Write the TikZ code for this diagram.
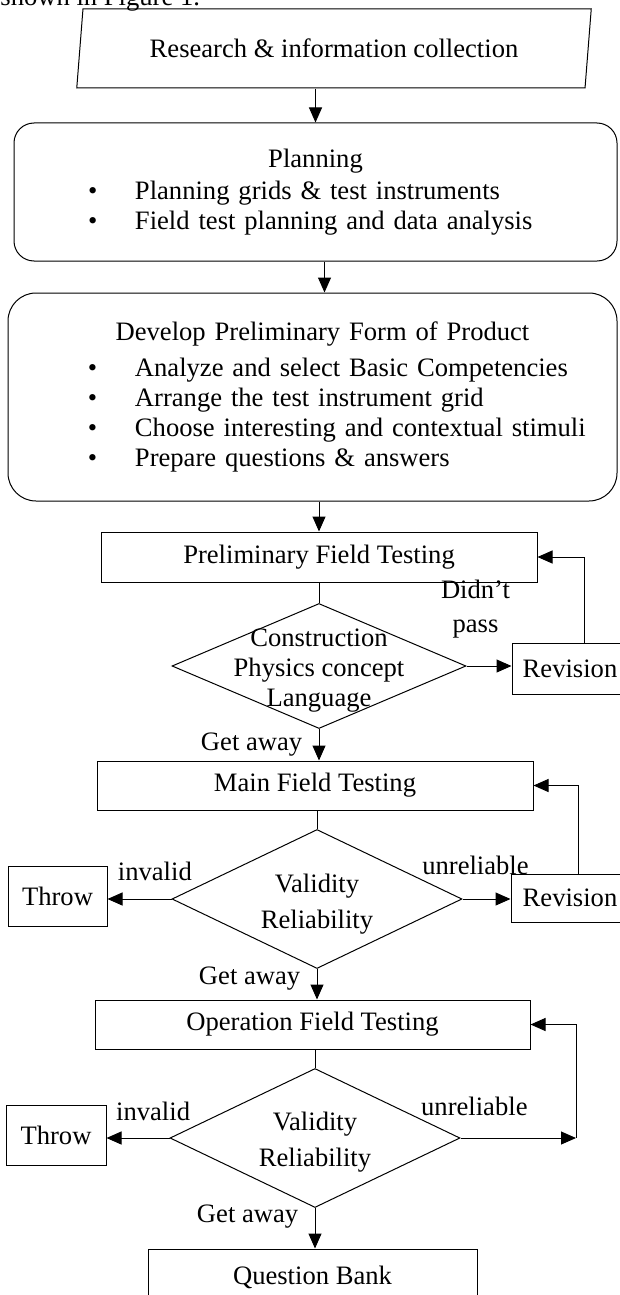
\documentclass[tikz,border=0pt]{standalone}
\usepackage{fontspec}
\setmainfont{Liberation Serif}
\usetikzlibrary{arrows.meta, positioning, shapes.geometric}

\newcommand{\bul}{\makebox[47pt][l]{\textbullet}}

\begin{document}
\begin{tikzpicture}[
  x=1pt, y=-1pt, line width=1pt,
  font=\fontsize{26.6}{30}\selectfont,
  inputbox/.style={trapezium, trapezium left angle=76.5, trapezium right angle=103.5, trapezium stretches=true, draw, inner sep=0pt},
  roundbox/.style={rectangle, draw, rounded corners=#1, inner sep=0pt, align=left},
  box/.style={rectangle, draw, minimum height=49pt, inner sep=0pt},
  decision/.style={diamond, draw, inner sep=0pt},
  lbl/.style={inner sep=0pt, align=center},
  flow/.style={->},
  >={Triangle[length=15pt, width=13pt]}
]
\useasboundingbox (0,0) rectangle (620,1295);

\node[anchor=base west, inner sep=0pt] (lead) at (0,6) {shown in Figure 1.};

\node[inputbox, minimum width=516pt, minimum height=79pt] (research) at (334,48.5) {Research \& information collection};
\node[roundbox=20pt, text width=603pt, minimum height=138pt] (plan) at (315.5,192) {\makebox[\linewidth]{Planning}\\[2pt]
  \hspace*{74pt}\bul Planning grids \& test instruments\\
  \hspace*{74pt}\bul Field test planning and data analysis};
\node[roundbox=28pt, text width=609pt, minimum height=208pt] (dev) at (312.5,397) {\makebox[\linewidth]{\hspace{20pt}Develop Preliminary Form of Product}\\[6pt]
  \hspace*{80pt}\bul Analyze and select Basic Competencies\\
  \hspace*{80pt}\bul Arrange the test instrument grid\\
  \hspace*{80pt}\bul Choose interesting and contextual stimuli\\
  \hspace*{80pt}\bul Prepare questions \& answers};

\node[box, minimum width=436pt, minimum height=50pt] (pft) at (319,557) {Preliminary Field Testing};
\node[decision, minimum width=294pt, minimum height=125pt, label={[lbl, yshift=-5pt]center:Construction\\Physics concept\\Language}] (chk1) at (319,666) {};
\node[box, minimum width=116pt, minimum height=51pt] (rev1) at (570,668.5) {Revision};

\node[box, minimum width=436pt] (mft) at (315,785.5) {Main Field Testing};
\node[decision, minimum width=290pt, minimum height=139pt, label={[lbl, yshift=-5pt]center:Validity\\[6pt]Reliability}] (chk2) at (317,899) {};
\node[box, minimum width=99pt, minimum height=60pt] (throw1) at (57.5,896) {Throw};
\node[box, minimum width=118pt, minimum height=48pt] (rev2) at (570,898) {Revision};

\node[box, minimum width=435pt] (oft) at (312.5,1024.5) {Operation Field Testing};
\node[decision, minimum width=290pt, minimum height=139pt, label={[lbl, yshift=-4pt]center:Validity\\[6pt]Reliability}] (chk3) at (315,1138) {};
\node[box, minimum width=100pt, minimum height=60pt] (throw2) at (56,1135) {Throw};
\coordinate (back3) at (576,1138);
\node[box, minimum width=329pt, minimum height=56pt] (bank) at (312.5,1277) {Question Bank};

\draw[flow] (research.south -| plan.north) -- (plan.north);
\draw[flow] ([xshift=9pt]plan.south) -- ([xshift=9pt]plan.south |- dev.north);
\draw[flow] (dev.south -| pft.north) -- (pft.north);
\draw (pft) -- (chk1);
\draw[flow] (chk1.east) -- (chk1.east -| rev1.west) node[lbl, pos=0.2, above=27pt] {Didn't\\[4pt]pass};
\draw[flow] ([xshift=14pt]rev1.north) |- (pft.east);
\draw[flow] (chk1.south) -- (chk1.south |- mft.north) node[midway, left=13pt] {Get away};

\draw (mft.south -| chk2.north) -- (chk2.north);
\draw[flow] (chk2.west) -- (chk2.west -| throw1.east) node[pos=0.26, above=14pt] {invalid};
\draw[flow] (chk2.east) -- (chk2.east -| rev2.west) node[pos=0.27, above=20pt] {unreliable};
\draw[flow] ([xshift=8pt]rev2.north) |- (mft.east);
\draw[flow] (chk2.south) -- (chk2.south |- oft.north) node[pos=0.3, left=13pt] {Get away};

\draw (oft.south -| chk3.north) -- (chk3.north);
\draw[flow] (chk3.west) -- (chk3.west -| throw2.east) node[pos=0.26, above=13pt] {invalid};
\draw[flow] (chk3.east) -- (back3) node[pos=0.12, above=18pt] {unreliable};
\draw[flow] (back3) |- (oft.east);
\draw[flow] (chk3.south) -- (chk3.south |- bank.north) node[pos=0.2, left=13pt] {Get away};
\end{tikzpicture}
\end{document}
